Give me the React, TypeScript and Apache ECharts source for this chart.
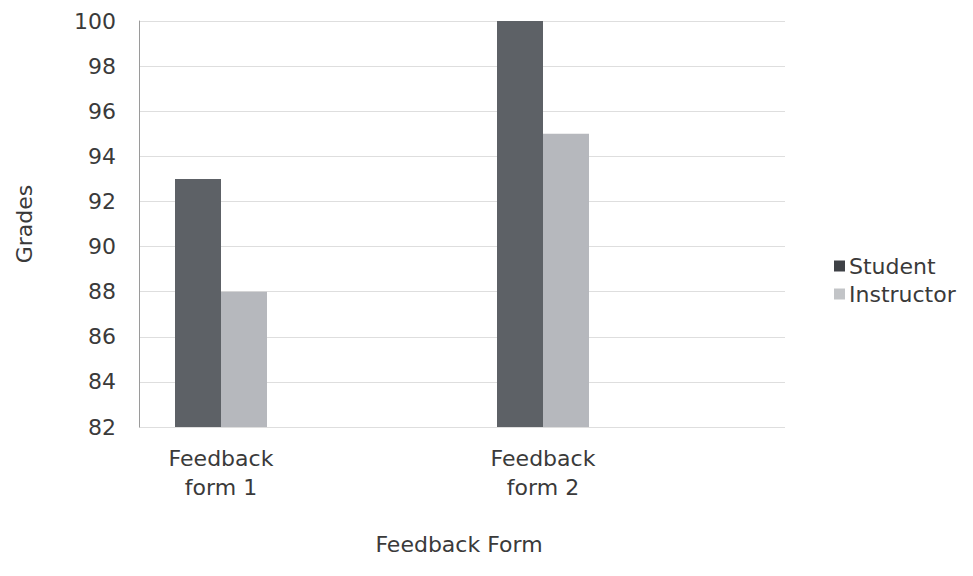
import React, { useEffect, useRef } from "react";
import * as echarts from "echarts";

const categories = ["Feedback\nform 1", "Feedback\nform 2"];
const studentGrades = [93, 100];
const instructorGrades = [88, 95];
const gradeMin = 82;
const gradeMax = 100;
const gradeStep = 2;

const FONT = "DejaVu Sans, Liberation Sans, Arial, sans-serif";
const TEXT = "#3a3a3a";
const FS = 22;

export default function App() {
  const ref = useRef<HTMLDivElement>(null);

  useEffect(() => {
    if (!ref.current) return;
    const chart = echarts.init(ref.current, null, { renderer: "svg" });
    chart.setOption({
      animation: false,
      backgroundColor: "#ffffff",
      textStyle: { fontFamily: FONT, color: TEXT },
      grid: [
        // frame with the value axis and gridlines
        { left: 139, top: 21, width: 646, height: 406 },
        // bars and category labels
        { left: 60, top: 21, width: 644, height: 406 },
      ],
      legend: {
        orient: "vertical",
        left: 829,
        top: 250,
        itemWidth: 11,
        itemHeight: 11,
        itemGap: 6,
        icon: "rect",
        textStyle: { fontSize: FS, color: TEXT, fontFamily: FONT, padding: [0, 0, 0, -1] },
        data: [
          { name: "Student", itemStyle: { color: "#3e4146" } },
          { name: "Instructor", itemStyle: { color: "#c2c4c7" } },
        ],
      },
      xAxis: [
        {
          gridIndex: 0,
          type: "category",
          data: categories,
          show: false,
        },
        {
          gridIndex: 1,
          type: "category",
          data: categories,
          axisLine: { show: false },
          axisTick: { show: false },
          axisLabel: {
            fontSize: FS,
            lineHeight: 29,
            color: TEXT,
            fontFamily: FONT,
            margin: 17,
          },
        },
      ],
      yAxis: [
        {
          gridIndex: 0,
          type: "value",
          min: gradeMin,
          max: gradeMax,
          interval: gradeStep,
          name: "Grades",
          nameLocation: "middle",
          nameGap: 104,
          nameRotate: 90,
          nameTextStyle: { fontSize: FS, color: TEXT, fontFamily: FONT },
          axisLine: { show: true, lineStyle: { color: "#9a9a9a", width: 1 } },
          axisTick: { show: false },
          axisLabel: { fontSize: FS, color: TEXT, fontFamily: FONT, margin: 23 },
          splitLine: { lineStyle: { color: "#dedede", width: 1 } },
        },
        {
          gridIndex: 1,
          type: "value",
          min: gradeMin,
          max: gradeMax,
          interval: gradeStep,
          show: false,
          splitLine: { show: false },
        },
      ],
      series: [
        {
          name: "Student",
          type: "bar",
          xAxisIndex: 1,
          yAxisIndex: 1,
          data: studentGrades,
          barWidth: 46,
          barGap: "0%",
          itemStyle: { color: "#5d6166" },
        },
        {
          name: "Instructor",
          type: "bar",
          xAxisIndex: 1,
          yAxisIndex: 1,
          data: instructorGrades,
          barWidth: 46,
          barGap: "0%",
          itemStyle: { color: "#b6b8bd" },
        },
      ],
      graphic: [
        {
          type: "text",
          x: 459,
          y: 544,
          style: {
            text: "Feedback Form",
            fontSize: FS,
            fill: TEXT,
            fontFamily: FONT,
            align: "center",
            verticalAlign: "middle",
          },
        },
      ],
    });
    return () => chart.dispose();
  }, []);

  return <div ref={ref} style={{ width: 973, height: 576, margin: -8 }} />;
}
